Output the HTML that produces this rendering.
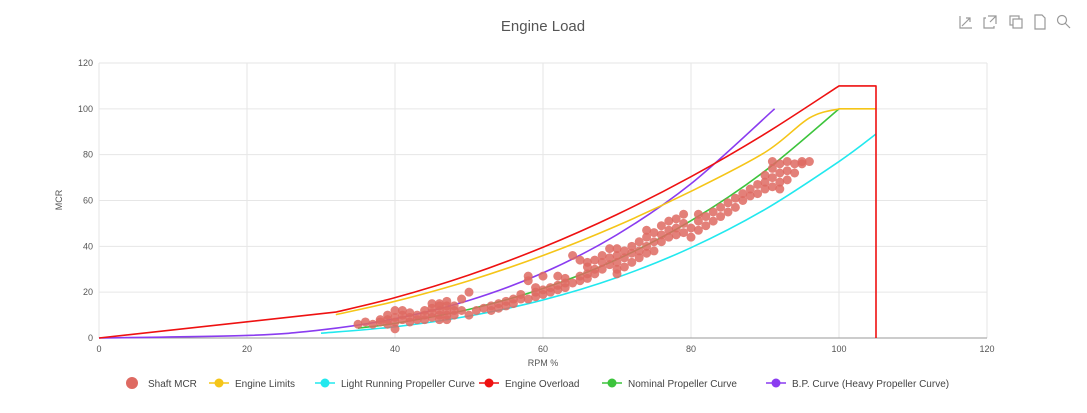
<!DOCTYPE html>
<html><head><meta charset="utf-8"><style>
body{margin:0;background:#fff;font-family:"Liberation Sans",sans-serif}
svg text{font-family:"Liberation Sans",sans-serif}
</style></head><body>
<svg id="c" width="1087" height="408" xmlns="http://www.w3.org/2000/svg">
<text x="543" y="31" text-anchor="middle" font-size="15" fill="#555">Engine Load</text>
<g id="toolbar" stroke="#999" fill="none" stroke-width="1.2">
<path d="M960 16v12h12M962 26l8-8M966 18h4v4"/>
<path d="M986 18h-2v10h10v-2M988 16h8v8M996 16l-6 6"/>
<rect x="1010" y="16" width="9" height="9"/><rect x="1013" y="19" width="9" height="9" fill="#fff"/>
<path d="M1035 15h7l3 3v11h-10z"/>
<circle cx="1062" cy="20" r="4.5"/><path d="M1065 23l5 5"/>
</g>
<g id="grid"></g><g id="lines"></g><g id="pts"></g><g id="legend"></g>
<text x="543" y="366" text-anchor="middle" font-size="9" fill="#555">RPM %</text>
<text x="62" y="200" text-anchor="middle" font-size="9" fill="#555" transform="rotate(-90 62 200)">MCR</text>
</svg>
<script>
const xTicks=[0,20,40,60,80,100,120];
const yTicks=[0,20,40,60,80,100,120];
const rpm=[35,36,37,38,38,39,39,39,40,40,40,40,41,41,41,42,42,42,43,43,44,44,44,45,45,45,45,46,46,46,46,46,47,47,47,47,47,48,48,48,49,49,50,50,51,52,53,53,54,54,55,55,56,56,57,57,58,58,58,59,59,59,60,60,60,61,61,62,62,62,63,63,63,64,64,65,65,65,66,66,66,66,67,67,67,68,68,68,69,69,69,70,70,70,70,70,71,71,71,72,72,72,73,73,73,74,74,74,74,75,75,75,76,76,76,77,77,77,78,78,78,79,79,79,80,80,81,81,81,82,82,83,83,84,84,85,85,86,86,87,87,88,88,89,89,90,90,90,91,91,91,91,92,92,92,92,93,93,93,94,94,95,95,96];
const mcr=[6,7,6,7,8,6,8,10,4,7,9,12,8,10,12,7,9,11,8,10,8,10,12,9,11,13,15,8,10,12,14,15,8,10,12,14,16,10,12,14,12,17,10,20,12,13,12,14,13,15,14,16,15,17,17,19,17,25,27,18,20,22,19,21,27,20,22,21,23,27,22,24,26,24,36,25,27,34,26,28,31,33,28,30,34,30,33,36,32,35,39,28,30,33,36,39,31,35,38,33,37,40,35,38,42,37,40,44,47,38,42,46,42,45,49,44,47,51,45,48,52,46,50,54,44,48,47,51,54,49,53,51,55,53,57,55,59,57,61,60,63,62,65,63,67,65,68,71,66,70,74,77,65,68,72,76,69,73,77,72,76,76,77,77];
const lightRpm=[30,40,50,60,70,80,90,100,105];
const lightVal=[2.1,4.9,9.6,16.6,26.4,39.4,56.1,77,89];
const nomRpm=[35,40,50,60,70,80,90,100];
const nomVal=[4.3,6.4,12.5,21.6,34.3,51.2,72.9,100];
const bpRpm=[0,20,30,40,50,60,70,80,91.3];
const bpVal=[0,1.1,3.5,8.4,16.4,28.4,45.1,67.3,100];
const limRpm=[32,40,50,60,70,80,90,96,100,105];
const limVal=[10.2,16,25,36,49,64,81,96,100,100];
const ovRpm=[0,32,40,50,60,70,80,90,100,105,105];
const ovVal=[0,11.3,17.6,27.5,39.6,53.9,70.4,89.1,110,110,0];
const X=v=>99+v*7.4, Y=v=>338-v*2.2917;
const NS="http://www.w3.org/2000/svg";
function mk(t,a,p){const e=document.createElementNS(NS,t);for(const k in a)e.setAttribute(k,a[k]);p.appendChild(e);return e;}
const g=document.getElementById('grid');
xTicks.forEach(t=>{const l=mk('line',{x1:X(t),x2:X(t),y1:63,y2:338,stroke:'#e6e6e6'},g);


const tx=mk('text',{x:X(t),y:352,'text-anchor':'middle','font-size':9,fill:'#555'},g);tx.textContent=t;

});
yTicks.forEach(t=>{const l=mk('line',{x1:99,x2:987,y1:Y(t),y2:Y(t),stroke:t?'#e6e6e6':'#999'},g);


const tx=mk('text',{x:93,y:Y(t)+3,'text-anchor':'end','font-size':9,fill:'#555'},g);tx.textContent=t;

});
const L=document.getElementById('lines');
// smooth (Catmull-Rom) between indices a..b, straight elsewhere
function line(xs,ys,c,name,a,b){const p=xs.map((x,i)=>[X(x),Y(ys[i])]);
let d='M'+p[0][0]+' '+p[0][1];
for(let i=1;i<p.length;i++){
 if(i-1>=a&&i<=b){const p0=p[Math.max(i-2,a)],p1=p[i-1],p2=p[i],p3=p[Math.min(i+1,b)];
  const c1=[p1[0]+(p2[0]-p0[0])/6,p1[1]+(p2[1]-p0[1])/6],c2=[p2[0]-(p3[0]-p1[0])/6,p2[1]-(p3[1]-p1[1])/6];
  d+='C'+c1[0]+' '+c1[1]+' '+c2[0]+' '+c2[1]+' '+p2[0]+' '+p2[1];}
 else d+='L'+p[i][0]+' '+p[i][1];}
const e=mk('path',{d:d,fill:'none',stroke:c,'stroke-width':1.6,'stroke-linejoin':'round'},L);

}
line(lightRpm,lightVal,'#22e8ee','light-running-propeller-curve',0,lightRpm.length-1);
line(nomRpm,nomVal,'#3cc43c','nominal-propeller-curve',0,nomRpm.length-1);
line(bpRpm,bpVal,'#8a3cf0','bp-heavy-propeller-curve',0,bpRpm.length-1);
line(limRpm,limVal,'#f5c518','engine-limits-line',0,8);
line(ovRpm,ovVal,'#ee1111','engine-overload-line',1,8);
const P=document.getElementById('pts');
rpm.forEach((r,i)=>{const c=mk('circle',{cx:X(r),cy:Y(mcr[i]),r:4.5,fill:'#de6a62','fill-opacity':0.85},P);

});
const LG=document.getElementById('legend');
const leg=[['Shaft  MCR','#de6a62',132,0],['Engine Limits','#f5c518',219,1],['Light Running Propeller Curve','#22e8ee',325,1],['Engine Overload','#ee1111',489,1],['Nominal Propeller Curve','#3cc43c',612,1],['B.P. Curve (Heavy Propeller Curve)','#8a3cf0',776,1]];
leg.forEach(([t,c,x,ln])=>{const gg=mk('g',{},LG);


if(ln)mk('line',{x1:x-10,x2:x+10,y1:383,y2:383,stroke:c,'stroke-width':1.5},gg);
mk('circle',{cx:x,cy:383,r:ln?4.5:6,fill:c},gg);
const tx=mk('text',{x:x+16,y:387,'font-size':10,fill:'#444','textLength':0},gg);tx.removeAttribute('textLength');tx.textContent=t;});
</script>
</body></html>
